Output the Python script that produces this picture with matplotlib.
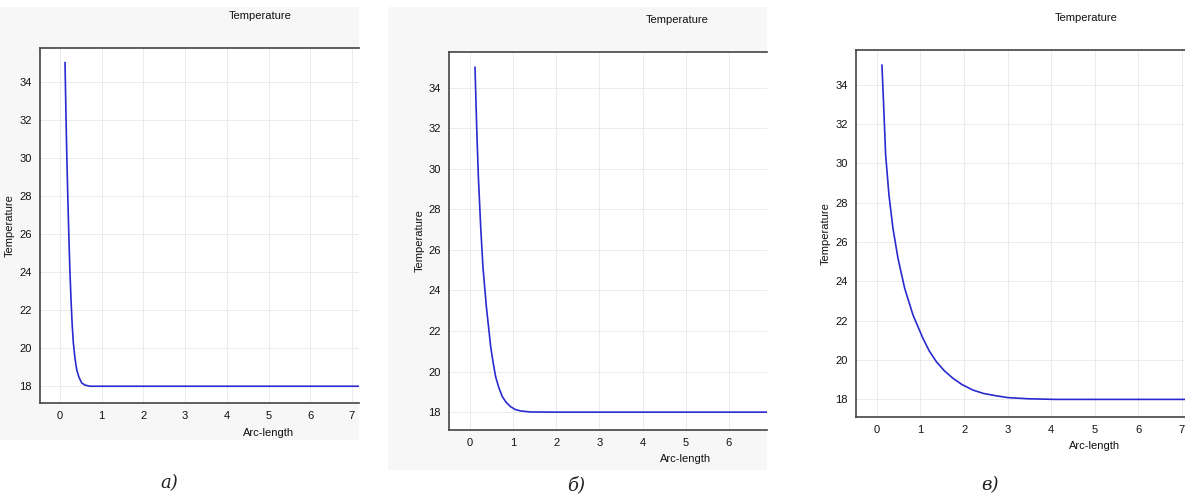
import matplotlib.pyplot as plt
from matplotlib.patches import Rectangle

# read-off curve points: arc-length vs temperature
x_a = [0.12, 0.14, 0.16, 0.185, 0.21, 0.235, 0.264, 0.29, 0.32, 0.36, 0.40, 0.45, 0.52, 0.6, 0.72, 1.0, 4.0, 7.3]
t_a = [35.0, 32.6, 30.4, 28.1, 26.05, 24.2, 22.55, 21.3, 20.27, 19.45, 18.87, 18.5, 18.17, 18.06, 18.0, 18.0, 18.0, 18.0]

x_b = [0.116, 0.155, 0.194, 0.248, 0.30, 0.38, 0.48, 0.54, 0.595, 0.67, 0.75, 0.84, 0.94, 1.05, 1.17, 1.4, 2.0, 7.3]
t_b = [35.0, 32.06, 29.6, 27.13, 25.16, 23.19, 21.22, 20.4, 19.74, 19.2, 18.76, 18.48, 18.27, 18.13, 18.06, 18.01, 18.0, 18.0]

x_c = [0.115, 0.154, 0.20, 0.276, 0.368, 0.483, 0.637, 0.828, 1.057, 1.2, 1.366, 1.55, 1.747, 1.95,
       2.207, 2.45, 2.745, 3.01, 3.49, 4.1, 5.0, 7.5]
t_c = [35.0, 32.98, 30.44, 28.4, 26.7, 25.18, 23.65, 22.29, 21.1, 20.47, 19.91, 19.45, 19.07, 18.76,
       18.47, 18.3, 18.18, 18.09, 18.03, 18.0, 18.0, 18.0]

x_ticks = [0, 1, 2, 3, 4, 5, 6, 7]
y_ticks = [18, 20, 22, 24, 26, 28, 30, 32, 34]
captions = ["a)", "б)", "в)"]

W, H = 1185, 495
fig = plt.figure(figsize=(W / 100, H / 100), dpi=100)
fig.patch.set_facecolor("white")

# light grey backdrop of the screenshots
fig.patches.append(Rectangle((0, 1 - 440 / H), 359 / W, 433 / H, transform=fig.transFigure,
                             facecolor="#f7f7f7", edgecolor="none", zorder=-5))
fig.patches.append(Rectangle((388 / W, 1 - 470 / H), (767 - 388) / W, 463 / H, transform=fig.transFigure,
                             facecolor="#f7f7f7", edgecolor="none", zorder=-5))

# panel boxes in pixels: left, right, top, bottom, xmax
panels = [
    (40, 359, 48, 403, 7.17, x_a, t_a),
    (449.3, 766.7, 51.7, 430, 6.88, x_b, t_b),
    (856, 1185, 50, 416.7, 7.07, x_c, t_c),
]
cap_pos = [(169, 483), (576, 485), (990, 485)]

for i, (l, r, t, b, xmax, xs, ts) in enumerate(panels):
    ax = fig.add_axes([l / W, 1 - b / H, (r - l) / W, (b - t) / H])
    ax.set_facecolor("white")
    xmin = -0.48
    ax.plot(xs, ts, color="#2a2ad0", lw=1.2, zorder=3, solid_joinstyle="round")
    ax.set_xticks(x_ticks)
    ax.set_yticks(y_ticks)
    ax.set_xlim(xmin, xmax)
    ax.set_ylim(17.12, 35.77)
    ax.grid(True, color="#ebebeb", lw=0.7)
    ax.tick_params(length=0, pad=6, labelsize=8, colors="#111111")
    for lab in ax.get_xticklabels() + ax.get_yticklabels():
        lab.set_fontfamily("Liberation Sans")
    for side in ["left", "bottom", "top"]:
        ax.spines[side].set_color("#444444")
        ax.spines[side].set_linewidth(1.2)
    ax.spines["right"].set_visible(False)

    xf = (5 - xmin) / (xmax - xmin)
    ax.set_xlabel("Arc-length", fontsize=8, family="Liberation Sans", color="#111111")
    ax.xaxis.set_label_coords(xf, -24.5 / (b - t))
    ax.set_ylabel("Temperature", fontsize=8, family="Liberation Sans", color="#111111")
    ax.yaxis.set_label_coords(-25 / (r - l), 0.5)
    tf = (4.81 - xmin) / (xmax - xmin)
    ax.text(tf, 1 + 32 / (b - t), "Temperature", transform=ax.transAxes, ha="center", va="center",
            fontsize=8, family="Liberation Sans", color="#111111")

    cx, cy = cap_pos[i]
    fig.text(cx / W, 1 - cy / H, captions[i], ha="center", va="center", fontsize=13,
             family="DejaVu Serif", style="italic", color="#222222")

fig.savefig("out.png", dpi=100)
